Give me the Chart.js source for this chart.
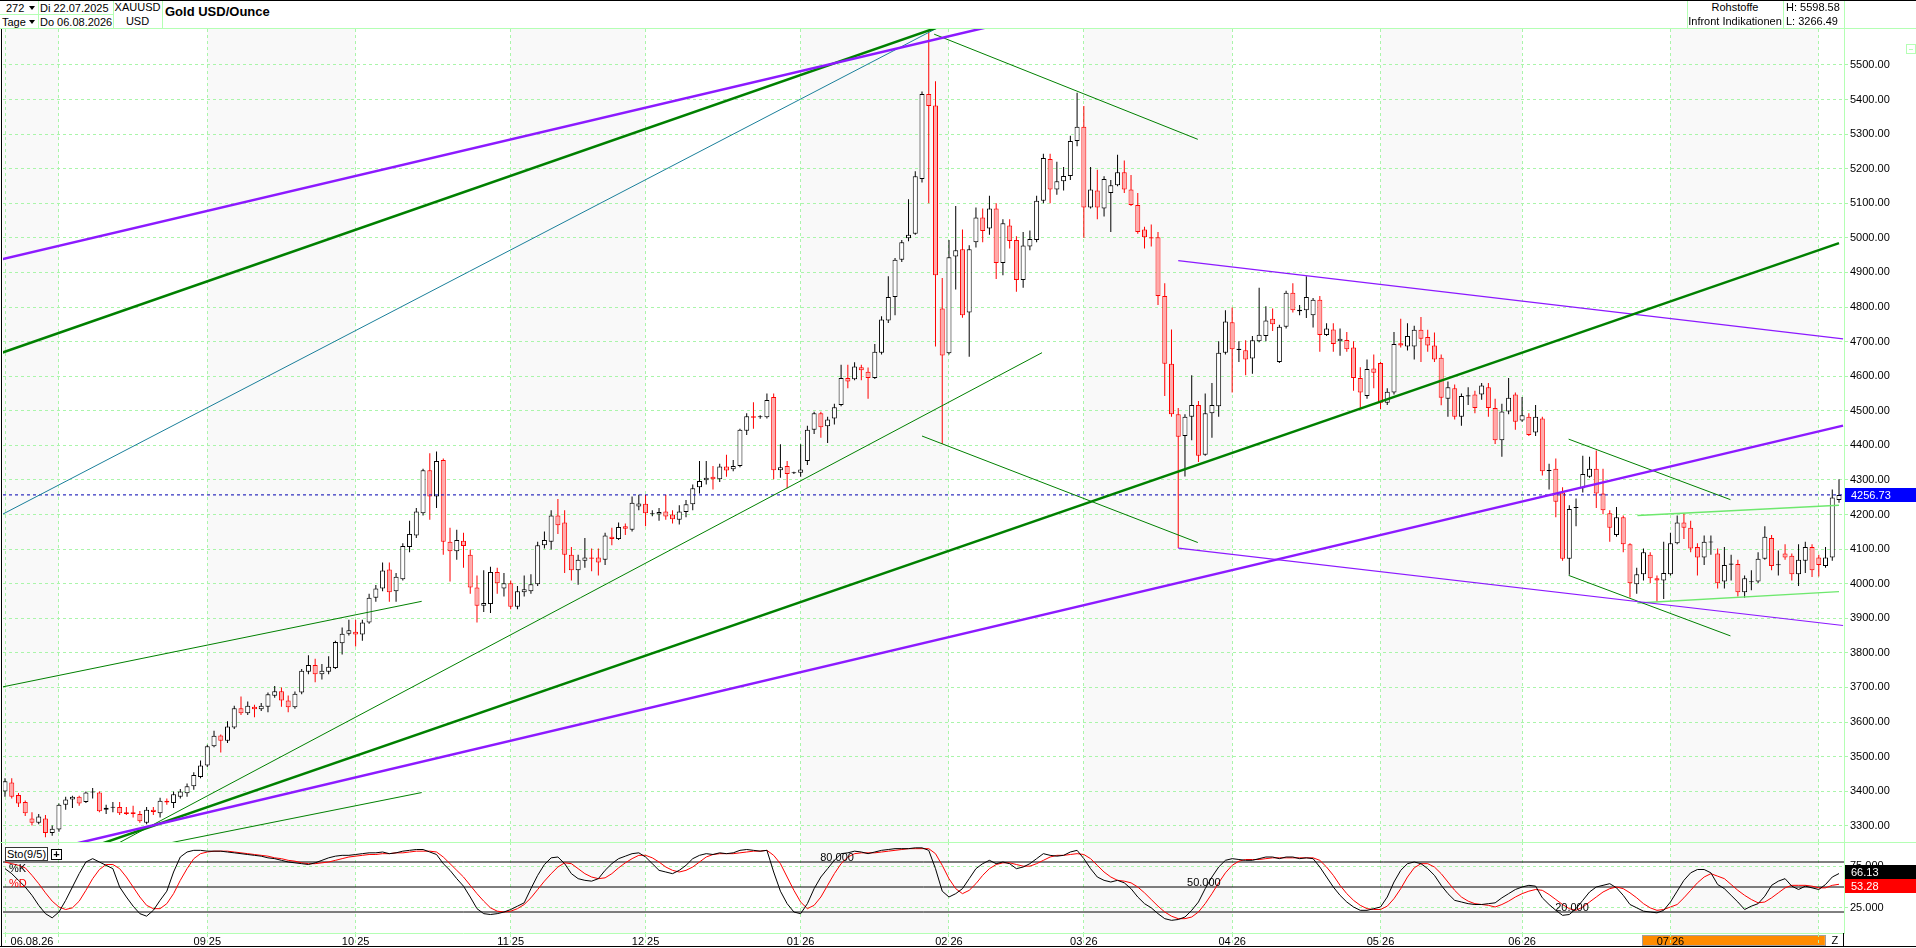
<!DOCTYPE html>
<html>
<head>
<meta charset="utf-8">
<script src="https://cdn.jsdelivr.net/npm/chart.js@4.4.0/dist/chart.umd.min.js"></script>
<style>
  html, body { margin: 0; padding: 0; background: #fff; }
  body { width: 1916px; height: 948px; position: relative; overflow: hidden;
         font-family: "Liberation Sans", Arial, sans-serif; font-size: 11px; color: #000; }
  canvas { position: absolute; left: 0; }
  .t { position: absolute; white-space: nowrap; line-height: 14px; z-index: 5; }
  .c { text-align: center; }
  .ln { position: absolute; background: #b4ffb4; z-index: 4; }
  .bk { position: absolute; background: #000; z-index: 4; }
  .tri { position: absolute; width: 0; height: 0; border-left: 3px solid transparent;
         border-right: 3px solid transparent; border-top: 4px solid #000; z-index: 5; }
</style>
</head>
<body>
<canvas id="price" width="1916" height="813" style="top:29px"></canvas>
<canvas id="sto" width="1916" height="106" style="top:842px"></canvas>

<!-- header -->
<div class="bk" style="left:0;top:0;width:1916px;height:1px"></div>
<div class="ln" style="left:0;top:28px;width:1916px;height:1px"></div>
<div class="ln" style="left:0;top:14px;width:113px;height:1px"></div>
<div class="ln" style="left:38px;top:1px;width:1px;height:27px"></div>
<div class="ln" style="left:113px;top:1px;width:1px;height:27px"></div>
<div class="ln" style="left:162px;top:1px;width:1px;height:27px"></div>
<div class="ln" style="left:1687px;top:1px;width:1px;height:27px"></div>
<div class="ln" style="left:1783px;top:1px;width:1px;height:27px"></div>
<div class="ln" style="left:1844px;top:1px;width:1px;height:27px"></div>
<div class="t" style="left:6px;top:1px">272</div>
<div class="tri" style="left:29px;top:6px"></div>
<div class="t" style="left:2px;top:15px">Tage</div>
<div class="tri" style="left:29px;top:20px"></div>
<div class="t" style="left:40px;top:1px">Di 22.07.2025</div>
<div class="t" style="left:40px;top:15px">Do 06.08.2026</div>
<div class="t c" style="left:113px;top:0px;width:49px">XAUUSD</div>
<div class="t c" style="left:113px;top:14px;width:49px">USD</div>
<div class="t" style="left:165px;top:4px;font-weight:bold;font-size:13px;line-height:16px">Gold USD/Ounce</div>
<div class="t c" style="left:1687px;top:0px;width:96px">Rohstoffe</div>
<div class="t c" style="left:1687px;top:14px;width:96px">Infront Indikationen</div>
<div class="t" style="left:1786px;top:0px">H: 5598.58</div>
<div class="t" style="left:1786px;top:14px">L: 3266.49</div>
<div style="position:absolute;left:1906px;top:44px;width:8px;height:8px;border:1px solid #b4ffb4;z-index:5">
  <div style="position:absolute;left:2px;top:4px;width:4px;height:1px;background:#b4ffb4"></div>
</div>

<!-- frame -->
<div class="bk" style="left:1px;top:29px;width:1px;height:917px"></div>
<div class="ln" style="left:0;top:842px;width:1916px;height:1px"></div>
<div class="bk" style="left:0;top:946px;width:1916px;height:1px"></div>
<div class="bk" style="left:1843px;top:933px;width:1px;height:13px"></div>

<!-- stochastic legend -->
<div class="t" style="left:5px;top:847px;width:41px;height:12px;line-height:12px;border:1px solid #333;text-align:center;background:#fff">Sto(9/5)</div>
<div class="t" style="left:51px;top:849px;width:9px;height:9px;line-height:9px;border:1px solid #000;text-align:center;font-weight:bold;font-size:11px;background:#fff">+</div>
<div class="t" style="left:9px;top:861px">%K</div>
<div class="t" style="left:9px;top:876px;color:#ff0000">%D</div>

<script>
// ---- candles (one per trading day, 22.07.2025 - 06.08.2026) ----
var opens = [
  3399, 3425, 3389, 3369, 3321, 3309, 3321, 3279, 3289, 3361,
  3376, 3384, 3369, 3396, 3396, 3346, 3352, 3354, 3339, 3339,
  3334, 3309, 3346, 3336, 3372, 3366, 3384, 3394, 3414, 3441,
  3474, 3530, 3561, 3546, 3584, 3640, 3625, 3644, 3637, 3644,
  3676, 3689, 3662, 3643, 3685, 3745, 3765, 3738, 3745, 3756,
  3828, 3855, 3861, 3853, 3888, 3959, 3986, 4041, 3978, 4013,
  4106, 4139, 4204, 4328, 4252, 4358, 4121, 4094, 4124, 4084,
  3989, 3936, 3941, 4034, 3986, 4001, 3933, 3975, 3978, 3998,
  4111, 4121, 4197, 4177, 4084, 4039, 4066, 4076, 4076, 4069,
  4136, 4129, 4166, 4156, 4223, 4231, 4201, 4200, 4209, 4200,
  4185, 4207, 4230, 4279, 4299, 4309, 4302, 4339, 4331, 4340,
  4442, 4484, 4481, 4481, 4540, 4328, 4340, 4319, 4321, 4355,
  4445, 4493, 4455, 4478, 4517, 4595, 4591, 4626, 4613, 4595,
  4668, 4761, 4829, 4937, 4999, 5012, 5170, 5416, 5383, 4796,
  4666, 4946, 4967, 4784, 4987, 5059, 5027, 5085, 4927, 5036,
  4994, 4878, 4975, 4994, 5107, 5228, 5140, 5164, 5179, 5280,
  5321, 5088, 5137, 5085, 5130, 5152, 5190, 5140, 5095, 5024,
  5002, 5002, 4832, 4636, 4490, 4427, 4483, 4517, 4373, 4493,
  4513, 4668, 4756, 4676, 4675, 4651, 4701, 4716, 4766, 4641,
  4743, 4841, 4788, 4791, 4776, 4821, 4719, 4735, 4701, 4705,
  4683, 4595, 4543, 4622, 4638, 4523, 4553, 4695, 4686, 4686,
  4734, 4713, 4689, 4653, 4535, 4565, 4483, 4541, 4547, 4547,
  4568, 4508, 4415, 4498, 4547, 4472, 4483, 4437, 4478, 4326,
  4332, 4264, 4072, 4219, 4276, 4309, 4332, 4261, 4204, 4141,
  4192, 4114, 3998, 4027, 4084, 4016, 4009, 4027, 4117, 4177,
  4162, 4106, 4076, 4119, 4087, 4006, 4055, 4057, 3975, 4004,
  4006, 4072, 4132, 4053, 4087, 4081, 4027, 4066, 4106, 4076,
  4051, 4076, 4242
];
var highs = [
  3437, 3437, 3395, 3373, 3339, 3334, 3331, 3301, 3364, 3384,
  3387, 3387, 3399, 3409, 3399, 3361, 3369, 3369, 3354, 3358,
  3343, 3354, 3354, 3381, 3379, 3399, 3406, 3422, 3455, 3489,
  3534, 3575, 3564, 3602, 3647, 3674, 3659, 3650, 3655, 3685,
  3704, 3700, 3677, 3688, 3753, 3793, 3783, 3768, 3790, 3835,
  3873, 3896, 3896, 3896, 3971, 3996, 4061, 4061, 4031, 4117,
  4182, 4219, 4332, 4377, 4382, 4362, 4162, 4156, 4147, 4099,
  4024, 4039, 4049, 4046, 4031, 4009, 3993, 4024, 4027, 4121,
  4151, 4212, 4245, 4212, 4106, 4084, 4132, 4102, 4102, 4147,
  4162, 4177, 4174, 4252, 4257, 4257, 4212, 4219, 4257, 4212,
  4227, 4242, 4287, 4355, 4355, 4340, 4347, 4373, 4358, 4448,
  4493, 4525, 4487, 4550, 4550, 4403, 4355, 4324, 4403, 4457,
  4497, 4497, 4483, 4520, 4633, 4633, 4640, 4633, 4625, 4693,
  4773, 4889, 4942, 4994, 5112, 5193, 5423, 5598.58, 5453, 4884,
  4994, 5092, 5024, 4979, 5088, 5085, 5122, 5100, 5054, 5054,
  5005, 5017, 5021, 5122, 5243, 5243, 5220, 5205, 5295, 5420,
  5381, 5205, 5197, 5178, 5167, 5240, 5224, 5182, 5130, 5032,
  5039, 5017, 4869, 4735, 4508, 4490, 4603, 4528, 4550, 4580,
  4701, 4791, 4799, 4701, 4704, 4716, 4856, 4802, 4796, 4749,
  4847, 4869, 4806, 4889, 4826, 4832, 4753, 4753, 4738, 4728,
  4701, 4626, 4648, 4663, 4641, 4565, 4728, 4766, 4753, 4746,
  4771, 4734, 4726, 4663, 4585, 4576, 4550, 4568, 4558, 4580,
  4580, 4535, 4520, 4595, 4553, 4540, 4493, 4517, 4483, 4347,
  4362, 4279, 4227, 4246, 4370, 4367, 4385, 4332, 4212, 4222,
  4197, 4117, 4046, 4102, 4091, 4024, 4121, 4147, 4197, 4204,
  4182, 4117, 4139, 4139, 4102, 4106, 4084, 4069, 4024, 4039,
  4091, 4166, 4141, 4096, 4114, 4087, 4114, 4121, 4114, 4084,
  4106, 4272, 4302
];
var lows = [
  3384, 3379, 3354, 3328, 3301, 3304, 3266.49, 3271, 3283, 3346,
  3351, 3358, 3366, 3379, 3339, 3334, 3339, 3331, 3331, 3324,
  3309, 3304, 3331, 3324, 3361, 3351, 3379, 3384, 3404, 3437,
  3470, 3527, 3512, 3539, 3580, 3620, 3620, 3614, 3632, 3628,
  3670, 3644, 3628, 3638, 3680, 3738, 3715, 3723, 3738, 3753,
  3795, 3850, 3818, 3835, 3884, 3948, 3978, 3948, 3948, 4009,
  4091, 4132, 4197, 4185, 4219, 4084, 4006, 4069, 4046, 3971,
  3888, 3918, 3915, 3971, 3963, 3926, 3926, 3963, 3971, 3993,
  4102, 4099, 4144, 4031, 4009, 3997, 4046, 4036, 4024, 4054,
  4111, 4126, 4141, 4151, 4212, 4166, 4195, 4182, 4185, 4174,
  4171, 4192, 4212, 4261, 4287, 4272, 4294, 4309, 4325, 4337,
  4430, 4448, 4477, 4478, 4302, 4306, 4276, 4317, 4309, 4343,
  4433, 4422, 4407, 4460, 4513, 4565, 4588, 4588, 4535, 4592,
  4663, 4754, 4776, 4930, 4990, 5009, 5160, 5100, 4686, 4404,
  4663, 4851, 4769, 4656, 4972, 4987, 5009, 4881, 4892, 4969,
  4844, 4856, 4964, 4987, 5100, 5100, 5125, 5137, 5167, 5265,
  5000, 5085, 5054, 5062, 5017, 5149, 5130, 5092, 5012, 4969,
  4975, 4806, 4543, 4483, 4103, 4310, 4415, 4352, 4370, 4422,
  4483, 4663, 4553, 4641, 4603, 4607, 4698, 4701, 4731, 4638,
  4738, 4784, 4776, 4768, 4741, 4671, 4716, 4671, 4659, 4671,
  4558, 4508, 4535, 4565, 4505, 4517, 4547, 4683, 4674, 4648,
  4641, 4671, 4641, 4516, 4483, 4475, 4457, 4517, 4493, 4532,
  4483, 4404, 4367, 4490, 4445, 4468, 4427, 4427, 4313, 4272,
  4192, 4066, 4026, 4166, 4264, 4306, 4219, 4201, 4121, 4136,
  4091, 3960, 3971, 4009, 4001, 3948, 3956, 4024, 4114, 4129,
  4091, 4024, 4054, 4084, 3986, 3986, 4009, 3963, 3959, 3981,
  4001, 4069, 4039, 4024, 4069, 4009, 3993, 4031, 4019, 4021,
  4046, 4066, 4234
];
var closes = [
  3429, 3384, 3364, 3336, 3309, 3327, 3279, 3291, 3361, 3376,
  3384, 3364, 3396, 3399, 3342, 3352, 3355, 3336, 3334, 3334,
  3313, 3346, 3340, 3372, 3367, 3391, 3399, 3414, 3447, 3474,
  3530, 3560, 3546, 3587, 3640, 3625, 3647, 3637, 3647, 3680,
  3689, 3662, 3643, 3682, 3748, 3765, 3738, 3748, 3760, 3831,
  3855, 3865, 3853, 3888, 3959, 3986, 4038, 3975, 4020, 4109,
  4144, 4209, 4328, 4252, 4355, 4121, 4094, 4126, 4109, 3989,
  3936, 3944, 4034, 4001, 4001, 3933, 3978, 3984, 3998, 4111,
  4126, 4197, 4169, 4084, 4039, 4069, 4076, 4072, 4061, 4139,
  4129, 4164, 4159, 4234, 4232, 4204, 4204, 4207, 4194, 4186,
  4209, 4230, 4276, 4297, 4306, 4302, 4339, 4327, 4340, 4445,
  4484, 4480, 4483, 4531, 4328, 4337, 4317, 4322, 4330, 4445,
  4493, 4452, 4475, 4510, 4595, 4585, 4628, 4617, 4595, 4671,
  4764, 4829, 4937, 4987, 5009, 5178, 5416, 5381, 4892, 4660,
  4944, 4964, 4776, 4967, 5059, 5020, 5085, 4927, 5042, 4991,
  4878, 4978, 4997, 5107, 5231, 5140, 5164, 5179, 5280, 5321,
  5088, 5140, 5088, 5170, 5152, 5190, 5140, 5095, 5017, 5002,
  4998, 4832, 4636, 4490, 4425, 4483, 4517, 4370, 4493, 4517,
  4668, 4758, 4678, 4679, 4648, 4704, 4720, 4761, 4750, 4743,
  4841, 4791, 4792, 4829, 4821, 4719, 4738, 4693, 4708, 4678,
  4595, 4553, 4621, 4610, 4523, 4555, 4693, 4689, 4716, 4734,
  4708, 4689, 4648, 4538, 4568, 4483, 4543, 4545, 4508, 4573,
  4508, 4415, 4498, 4538, 4468, 4487, 4430, 4483, 4325, 4329,
  4237, 4072, 4216, 4222, 4317, 4332, 4261, 4212, 4162, 4192,
  4114, 4001, 4027, 4091, 4016, 4009, 4031, 4117, 4177, 4162,
  4102, 4076, 4121, 4122, 4001, 4054, 4058, 3975, 4016, 4007,
  4072, 4136, 4051, 4056, 4076, 4027, 4069, 4106, 4039, 4054,
  4076, 4249, 4256.73
];

// ---- Stochastic (9/5): %K and %D ----
var stoK = [
  72, 66, 58, 50, 40, 28, 18, 13, 20, 34,
  50, 66, 80, 84, 80, 76, 72, 50, 38, 27,
  18, 15, 22, 34, 45, 68, 86, 92, 94, 94,
  93, 93, 93, 92, 91, 90, 89, 88, 87, 85,
  84, 82, 80, 79, 78, 77, 79, 82, 85, 87,
  88, 88, 89, 90, 91, 91, 92, 90, 91, 93,
  94, 95, 95, 92, 89, 78, 70, 60, 51, 38,
  24, 18, 17, 18, 20, 23, 27, 31, 48, 64,
  77, 85, 86, 78, 66, 60, 58, 57, 60, 70,
  78, 84, 87, 90, 91, 86, 78, 70, 68, 66,
  70, 76, 84, 88, 90, 89, 91, 90, 91, 94,
  95, 94, 93, 94, 68, 45, 30, 20, 18, 30,
  48, 62, 72, 82, 90, 91, 93, 92, 90, 92,
  94, 95, 96, 96, 96, 97, 97, 94, 72, 45,
  38, 42, 48, 60, 72, 78, 82, 78, 80, 78,
  72, 74, 78, 84, 90, 88, 87, 88, 92, 94,
  84, 72, 62, 58, 56, 58, 55, 48, 38, 30,
  25, 18, 12, 10, 11, 14, 22, 32, 48, 62,
  74, 82, 84, 83, 82, 82, 84, 86, 86, 84,
  86, 86, 84, 85, 84, 74, 62, 50, 40, 32,
  26, 22, 22, 24, 26, 38, 56, 70, 78, 80,
  78, 72, 64, 52, 42, 34, 32, 30, 29, 29,
  30, 31, 37, 42, 47, 50, 52, 51, 37, 29,
  22, 16, 17, 24, 34, 44, 50, 52, 54, 49,
  40, 29, 25, 21, 20, 19, 22, 32, 45, 58,
  67, 71, 71, 67, 53, 48, 40, 32, 23, 27,
  30, 39, 52, 57, 60, 51, 47, 51, 49, 47,
  53, 62, 66.13
];
var stoD = [
  80, 78, 76, 73, 64, 54, 43, 33, 26, 23,
  25, 33, 46, 60, 71, 77, 77, 72, 62, 50,
  38, 28, 24, 24, 30, 42, 58, 72, 84, 90,
  92, 93, 93, 93, 92, 91, 90, 89, 88, 87,
  85, 84, 82, 81, 79, 78, 78, 79, 80, 82,
  84, 86, 87, 88, 89, 89, 90, 90, 91, 91,
  92, 93, 93, 93, 92, 86, 78, 70, 62, 52,
  42, 33, 25, 21, 20, 21, 24, 29, 37, 47,
  57, 66, 74, 79, 78, 72, 66, 62, 60, 61,
  66, 73, 79, 84, 88, 88, 85, 80, 74, 70,
  68, 70, 74, 80, 86, 89, 90, 90, 90, 91,
  92, 93, 93, 94, 88, 78, 62, 46, 32, 24,
  28, 38, 52, 66, 78, 86, 90, 91, 91, 91,
  92, 93, 94, 95, 96, 96, 96, 96, 90, 76,
  60, 48, 42, 46, 54, 64, 72, 77, 79, 79,
  77, 75, 75, 78, 82, 86, 88, 88, 89, 90,
  89, 84, 76, 68, 62, 58, 57, 55, 50, 43,
  35, 27, 20, 15, 12, 12, 14, 20, 30, 42,
  55, 67, 76, 81, 83, 83, 83, 84, 85, 85,
  85, 85, 85, 85, 85, 82, 74, 64, 52, 42,
  34, 28, 24, 23, 23, 27, 36, 48, 62, 73,
  78, 78, 74, 66, 56, 46, 38, 33, 30, 29,
  28, 26, 29, 33, 38, 42, 45, 47, 46, 41,
  35, 29, 24, 22, 26, 32, 38, 44, 48, 50,
  48, 43, 37, 30, 25, 22, 23, 26, 29, 37,
  46, 55, 62, 66, 63, 60, 53, 46, 40, 35,
  31, 32, 37, 43, 49, 52, 52, 52, 51, 49,
  49, 52, 53.28
];

// ---- axes ----
var priceTicks = [3300, 3400, 3500, 3600, 3700, 3800, 3900, 4000, 4100, 4200, 4300,
                  4400, 4500, 4600, 4700, 4800, 4900, 5000, 5100, 5200, 5300, 5400, 5500];
var stoTicks = [25, 75];
var stoLevels = [80, 50, 20];
var monthTicks = [0, 8, 30, 52, 75, 95, 118, 140, 160, 182, 204, 225, 247, 269];
var monthLabels = ['', '', '09 25', '10 25', '11 25', '12 25', '01 26', '02 26', '03 26',
                   '04 26', '05 26', '06 26', '07 26', ''];
var shadedMonths = [[-1, 8], [30, 52], [75, 95], [118, 140], [160, 182], [204, 225], [247, 269]];
var dateLabel = '06.08.26';
var lastPrice = 4256.73;

// ---- drawn trend lines: [bar index, price] ----
var lineStarts = [[-0.74, 4937], [0, 3200], [-0.74, 4666], [10, 3219], [-0.74, 4197],
                  [-0.74, 3700], [20, 3233], [15, 3231], [137.8, 5589], [136, 4427],
                  [174, 4934], [174, 4103], [231.9, 4418], [231.9, 4024], [242.1, 4197], [242.1, 3944]];
var lineEnds = [[150, 5629], [272.6, 4457], [150, 5688], [272, 4985], [150, 5726],
                [61.8, 3949], [61.8, 3396], [153.8, 4668], [176.9, 5285], [176.9, 4119],
                [272.6, 4708], [272.6, 3879], [255.9, 4243], [255.9, 3849], [272, 4227], [272, 3977]];

// styles
var purple = '#8c1aff', green = '#008000', teal = '#1a7f9a', lime = '#6ee86e';
var lineColors = [purple, purple, green, green, teal, green, green, green, green, green,
                  purple, purple, green, green, lime, lime];
var lineWidths = [2.5, 2.5, 2.5, 2.5, 1, 1, 1, 1, 1, 1, 1.2, 1.2, 1, 1, 1.4, 1.4];
var gridGreen = '#aaf5aa';
var edgeGreen = '#b4ffb4';
var xMin = -0.297, xMax = 272.74;
var dateTickAt = 4.0;
var zoneFrom = 242.8, zoneTo = 269.9, zMarkAt = 271.4;
var levelLabelAt = [123.4, 177.8, 232.4];

Chart.defaults.font.family = '"Liberation Sans", Arial, sans-serif';
Chart.defaults.font.size = 11;
Chart.defaults.color = '#000';

var N = closes.length;

// month shading behind the grid
var shadePlugin = {
  id: 'shade',
  beforeDraw: function (chart) {
    var a = chart.chartArea, xs = chart.scales.x, c = chart.ctx;
    c.save();
    c.fillStyle = '#f9f9f9';
    shadedMonths.forEach(function (m) {
      var x1 = Math.max(a.left, xs.getPixelForValue(m[0]));
      var x2 = Math.min(a.right, xs.getPixelForValue(m[1]));
      c.fillRect(x1, a.top, x2 - x1, a.bottom - a.top);
    });
    c.restore();
  }
};

// last price box on the right axis
var priceBoxPlugin = {
  id: 'priceBox',
  afterDraw: function (chart) {
    var a = chart.chartArea, c = chart.ctx;
    var y = Math.round(chart.scales.y.getPixelForValue(lastPrice));
    c.save();
    c.fillStyle = '#0000ff';
    c.fillRect(a.right + 1, y - 7, chart.width - a.right - 1, 14);
    c.fillStyle = '#ffffff';
    c.font = '11px "Liberation Sans", Arial, sans-serif';
    c.textBaseline = 'middle';
    c.fillText(lastPrice.toFixed(2), a.right + 7, y + 0.5);
    c.restore();
  }
};

// stochastic extras: level labels, value boxes, month zone
var stoPlugin = {
  id: 'stoExtras',
  beforeDraw: function (chart) {
    var a = chart.chartArea, xs = chart.scales.x, c = chart.ctx;
    var x1 = xs.getPixelForValue(zoneFrom), x2 = xs.getPixelForValue(zoneTo);
    c.save();
    c.fillStyle = '#ff8c00';
    c.fillRect(x1, a.bottom + 3, x2 - x1, 9);
    c.strokeStyle = '#a0a0a0';
    c.lineWidth = 1;
    c.strokeRect(Math.round(x1) + 0.5, a.bottom + 2.5, Math.round(x2 - x1), 10);
    c.restore();
  },
  afterDatasetsDraw: function (chart) {
    var xs = chart.scales.x, ys = chart.scales.y, c = chart.ctx;
    c.save();
    c.font = '11px "Liberation Sans", Arial, sans-serif';
    c.fillStyle = '#000';
    c.textAlign = 'center';
    c.textBaseline = 'bottom';
    stoLevels.forEach(function (lv, k) {
      c.fillText(lv.toFixed(3), xs.getPixelForValue(levelLabelAt[k]), ys.getPixelForValue(lv) + 1);
    });
    c.restore();
  },
  afterDraw: function (chart) {
    var a = chart.chartArea, xs = chart.scales.x, ys = chart.scales.y, c = chart.ctx;
    var kv = stoK[N - 1], dv = stoD[N - 1];
    var yk = ys.getPixelForValue(kv), yd = ys.getPixelForValue(dv);
    if (Math.abs(yd - yk) < 14) { var mid = (yk + yd) / 2; yk = mid - 7; yd = mid + 7; }
    c.save();
    c.font = '11px "Liberation Sans", Arial, sans-serif';
    c.textBaseline = 'middle';
    c.fillStyle = '#000';
    c.fillRect(a.right + 1, Math.round(yk) - 7, chart.width - a.right - 1, 14);
    c.fillStyle = '#ff0000';
    c.fillRect(a.right + 1, Math.round(yd) - 7, chart.width - a.right - 1, 14);
    c.fillStyle = '#ffffff';
    c.fillText(kv.toFixed(2), a.right + 7, Math.round(yk) + 0.5);
    c.fillText(dv.toFixed(2), a.right + 7, Math.round(yd) + 0.5);
    c.fillStyle = '#000';
    c.textAlign = 'center';
    c.fillText('Z', xs.getPixelForValue(zMarkAt), a.bottom + 8);
    c.restore();
  }
};

function barData(a, b) {
  var out = [];
  for (var i = 0; i < N; i++) out.push({ x: i, y: [a[i], b[i]] });
  return out;
}
function seriesData(v) {
  var out = [];
  for (var i = 0; i < v.length; i++) out.push({ x: i, y: v[i] });
  return out;
}

var bodyFill = [], bodyEdge = [], wickColor = [];
for (var i = 0; i < N; i++) {
  var up = closes[i] >= opens[i];
  bodyFill.push(up ? '#ffffff' : '#ffaaaa');
  bodyEdge.push(up ? '#000000' : '#ff0000');
  wickColor.push(up ? '#000000' : '#ff0000');
}

var priceSets = [];
for (var t = 0; t < lineStarts.length; t++) {
  priceSets.push({
    type: 'line',
    data: [{ x: lineStarts[t][0], y: lineStarts[t][1] }, { x: lineEnds[t][0], y: lineEnds[t][1] }],
    borderColor: lineColors[t], borderWidth: lineWidths[t], pointRadius: 0, order: 0
  });
}
priceSets.push({
  type: 'line',
  data: [{ x: xMin, y: lastPrice }, { x: xMax, y: lastPrice }],
  borderColor: '#0000b0', borderWidth: 1, borderDash: [3, 3], pointRadius: 0, order: 0
});
priceSets.push({
  type: 'bar', data: barData(opens, closes),
  backgroundColor: bodyFill, borderColor: bodyEdge, borderWidth: 1, borderSkipped: false,
  barThickness: 5, grouped: false, minBarLength: 1, inflateAmount: 0, order: 1
});
priceSets.push({
  type: 'bar', data: barData(lows, highs),
  backgroundColor: wickColor, borderWidth: 0, barThickness: 1, grouped: false,
  inflateAmount: 0, order: 2
});

function monthTickList() {
  return monthTicks.map(function (v) { return { value: v }; });
}

new Chart(document.getElementById('price').getContext('2d'), {
  type: 'bar',
  data: { datasets: priceSets },
  options: {
    responsive: false,
    animation: false,
    layout: { padding: { left: 3, top: 0, right: 0, bottom: 0 } },
    plugins: { legend: { display: false }, tooltip: { enabled: false } },
    scales: {
      x: {
        type: 'linear', min: xMin, max: xMax, offset: false,
        afterBuildTicks: function (s) { s.ticks = monthTickList(); },
        afterFit: function (s) { s.height = 0; s.paddingLeft = 0; s.paddingRight = 0; },
        ticks: { display: false },
        grid: { color: gridGreen, offset: false, drawTicks: false },
        border: { color: edgeGreen, dash: [3, 3] }
      },
      y: {
        position: 'right', min: 3253, max: 5604,
        afterBuildTicks: function (s) { s.ticks = priceTicks.map(function (v) { return { value: v }; }); },
        afterFit: function (s) { s.width = 72; s.paddingTop = 0; s.paddingBottom = 0; },
        ticks: { padding: 1, callback: function (v) { return Number(v).toFixed(2); } },
        grid: { color: gridGreen, tickLength: 5, tickBorderDash: [3, 3] },
        border: { color: edgeGreen, dash: [3, 3] }
      }
    }
  },
  plugins: [shadePlugin, priceBoxPlugin]
});

var stoSets = [
  { data: seriesData(stoK), borderColor: '#000000', borderWidth: 1, pointRadius: 0, order: 0 },
  { data: seriesData(stoD), borderColor: '#ff0000', borderWidth: 1, pointRadius: 0, order: 1 }
];
stoLevels.forEach(function (lv) {
  stoSets.push({ data: [{ x: xMin, y: lv }, { x: xMax, y: lv }], borderColor: '#000000',
                 borderWidth: 1, pointRadius: 0, order: 2 });
});

new Chart(document.getElementById('sto').getContext('2d'), {
  type: 'line',
  data: { datasets: stoSets },
  options: {
    responsive: false,
    animation: false,
    layout: { padding: { left: 3, top: 0, right: 0, bottom: 0 } },
    plugins: { legend: { display: false }, tooltip: { enabled: false } },
    scales: {
      x: {
        type: 'linear', min: xMin, max: xMax, offset: false,
        afterBuildTicks: function (s) { s.ticks = [{ value: dateTickAt }].concat(monthTickList()); },
        afterFit: function (s) { s.height = 15; s.paddingLeft = 0; s.paddingRight = 0; },
        ticks: {
          autoSkip: false, maxRotation: 0, padding: -11,
          callback: function (v, idx) { return idx === 0 ? dateLabel : monthLabels[idx - 1]; }
        },
        grid: {
          offset: false, tickLength: 13, tickBorderDash: [3, 3],
          color: function (ctx) { return ctx.tick && ctx.tick.value === dateTickAt ? 'rgba(0,0,0,0)' : gridGreen; }
        },
        border: { color: edgeGreen, dash: [3, 3] }
      },
      y: {
        position: 'right', min: -5.2, max: 104,
        afterBuildTicks: function (s) { s.ticks = stoTicks.map(function (v) { return { value: v }; }); },
        afterFit: function (s) { s.width = 72; s.paddingTop = 0; s.paddingBottom = 0; },
        ticks: { padding: 1, callback: function (v) { return Number(v).toFixed(3); } },
        grid: { color: gridGreen, tickLength: 5, tickBorderDash: [3, 3] },
        border: { color: edgeGreen, dash: [3, 3] }
      }
    }
  },
  plugins: [shadePlugin, stoPlugin]
});
</script>
</body>
</html>
